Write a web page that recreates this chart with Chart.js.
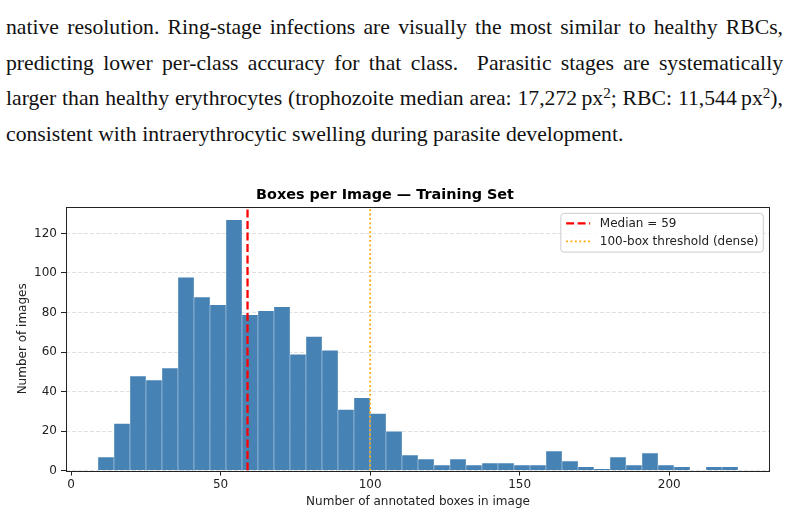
<!DOCTYPE html>
<html>
<head>
<meta charset="utf-8">
<script src="https://cdn.jsdelivr.net/npm/chart.js@4.4.1/dist/chart.umd.min.js"></script>
<style>
  html, body { margin: 0; padding: 0; background: #fff; }
  body { width: 791px; height: 514px; position: relative; overflow: hidden; }
  #para {
    position: absolute; left: 6px; top: 10px; width: 777px;
    font-family: "Liberation Serif", serif; font-size: 21.7px; line-height: 35.5px; color: #111;
  }
  #para div { text-align: justify; text-align-last: justify; white-space: nowrap; }
  #para div.last { text-align-last: left; }
  #para sup { font-size: 0.7em; line-height: 0; vertical-align: 0.45em; }
  #wrap { position: absolute; left: 0; top: 160px; width: 791px; height: 354px; }
</style>
</head>
<body>
<div id="para">
  <div>native resolution. Ring-stage infections are visually the most similar to healthy RBCs,</div>
  <div>predicting lower per-class accuracy for that class. &nbsp;Parasitic stages are systematically</div>
  <div>larger than healthy erythrocytes (trophozoite median area: 17,272&thinsp;px<sup>2</sup>; RBC: 11,544&thinsp;px<sup>2</sup>),</div>
  <div class="last">consistent with intraerythrocytic swelling during parasite development.</div>
</div>
<div id="wrap"><canvas id="myChart"></canvas></div>
<script>
// histogram of boxes per image (40 bins)
const binStart = 9;
const binWidth = 5.35;
const binCounts = [7, 24, 48, 46, 52, 98, 88, 84, 127, 79,
                   81, 83, 59, 68, 61, 31, 37, 29, 20, 8,
                   6, 3, 6, 3, 4, 4, 3, 3, 10, 5,
                   2, 1, 7, 3, 9, 3, 2, 0, 2, 2];
const medianBoxes = 59;
const denseThreshold = 100;
const xTicks = [0, 50, 100, 150, 200];
const yTicks = [0, 20, 40, 60, 80, 100, 120];
const xMin = -1.7, xMax = 233.7, yMax = 133.35;

const font = '"DejaVu Sans", sans-serif';
const ink = '#222';

const histData = binCounts.map((c, i) => ({ x: binStart + binWidth * (i + 0.5), y: c }));

const frameAndLegend = {
  id: 'frameAndLegend',
  afterDraw(chart) {
    const ctx = chart.ctx;
    const a = chart.chartArea;
    ctx.save();
    // full box spines
    ctx.strokeStyle = ink;
    ctx.lineWidth = 1;
    ctx.setLineDash([]);
    ctx.strokeRect(Math.round(a.left) + 0.5, Math.round(a.top) + 0.5,
                   Math.round(a.right - a.left) - 1, Math.round(a.bottom - a.top));

    // legend, upper right
    const items = chart.data.datasets.filter(d => d.type === 'line');
    ctx.font = '12px ' + font;
    let maxW = 0;
    items.forEach(d => { maxW = Math.max(maxW, ctx.measureText(d.label).width); });
    const padL = 5.3, handle = 24, gap = 9.7, padR = 4.8, rowH = 18;
    const w = padL + handle + gap + maxW + padR;
    const h = 10 + rowH * (items.length - 1) + 10.7;
    const bx = a.right - 6.7 - w;
    const by = a.top + 6.3;
    ctx.beginPath();
    ctx.roundRect(bx, by, w, h, 3);
    ctx.fillStyle = 'rgba(255,255,255,0.8)';
    ctx.fill();
    ctx.strokeStyle = '#cccccc';
    ctx.lineWidth = 1;
    ctx.stroke();
    items.forEach((d, i) => {
      const y = by + 10 + rowH * i;
      ctx.beginPath();
      ctx.setLineDash(d.borderDash);
      ctx.strokeStyle = d.borderColor;
      ctx.lineWidth = d.borderWidth;
      ctx.moveTo(bx + padL, y);
      ctx.lineTo(bx + padL + handle, y);
      ctx.stroke();
      ctx.setLineDash([]);
      ctx.fillStyle = ink;
      ctx.textBaseline = 'middle';
      ctx.textAlign = 'left';
      ctx.fillText(d.label, bx + padL + handle + gap, y);
    });
    ctx.restore();
  }
};

const config = {
  type: 'bar',
  data: {
    datasets: [
      {
        type: 'line',
        label: 'Median = ' + medianBoxes,
        data: [{ x: medianBoxes, y: 0 }, { x: medianBoxes, y: yMax }],
        borderColor: '#ff0000',
        borderWidth: 2.3,
        borderDash: [8, 3.5],
        pointRadius: 0,
        order: 0
      },
      {
        type: 'line',
        label: denseThreshold + '-box threshold (dense)',
        data: [{ x: denseThreshold, y: 0 }, { x: denseThreshold, y: yMax }],
        borderColor: '#ffa500',
        borderWidth: 1.8,
        borderDash: [1.8, 2.6],
        pointRadius: 0,
        order: 0
      },
      {
        label: 'Training images',
        data: histData,
        backgroundColor: '#4682b4',
        borderColor: 'rgba(255,255,255,0.75)',
        borderWidth: { top: 0.8, left: 0.5, right: 0.5, bottom: 0 },
        borderSkipped: 'start',
        barPercentage: 1,
        categoryPercentage: 1,
        order: 1
      }
    ]
  },
  options: {
    responsive: true,
    maintainAspectRatio: false,
    devicePixelRatio: 1,
    animation: false,
    layout: { padding: { left: 0, right: 21, top: 0, bottom: 0 } },
    plugins: {
      legend: { display: false },
      tooltip: { enabled: false },
      title: {
        display: true,
        text: 'Boxes per Image — Training Set',
        color: '#000',
        font: { family: font, size: 14.4, weight: 'bold', lineHeight: 1.2 },
        padding: { top: 26.2, bottom: 3.6 }
      }
    },
    scales: {
      x: {
        type: 'linear',
        min: xMin,
        max: xMax,
        offset: false,
        afterBuildTicks: s => { s.ticks = xTicks.map(v => ({ value: v })); },
        afterFit: s => { s.height = 43.4; },
        ticks: { color: ink, font: { family: font, size: 12 }, padding: 2.5, maxRotation: 0 },
        grid: { offset: false, drawOnChartArea: false, tickLength: 5, tickColor: ink, tickWidth: 1 },
        border: { display: false },
        title: {
          display: true,
          text: 'Number of annotated boxes in image',
          color: ink,
          font: { family: font, size: 12 },
          padding: { top: 0, bottom: 5 }
        }
      },
      y: {
        min: 0,
        max: yMax,
        afterBuildTicks: s => { s.ticks = yTicks.map(v => ({ value: v })); },
        afterFit: s => { s.width = 66; },
        ticks: { color: ink, font: { family: font, size: 12 }, padding: 4 },
        grid: { color: '#e0e0e0', lineWidth: 1, tickLength: 5, tickColor: ink, tickWidth: 1, tickBorderDash: [] },
        border: { display: false, dash: [4, 2] },
        title: {
          display: true,
          text: 'Number of images',
          color: ink,
          font: { family: font, size: 12 },
          padding: { top: 15.5, bottom: 0 }
        }
      }
    }
  },
  plugins: [frameAndLegend]
};

var myChart = new Chart(document.getElementById('myChart'), config);
</script>
</body>
</html>
